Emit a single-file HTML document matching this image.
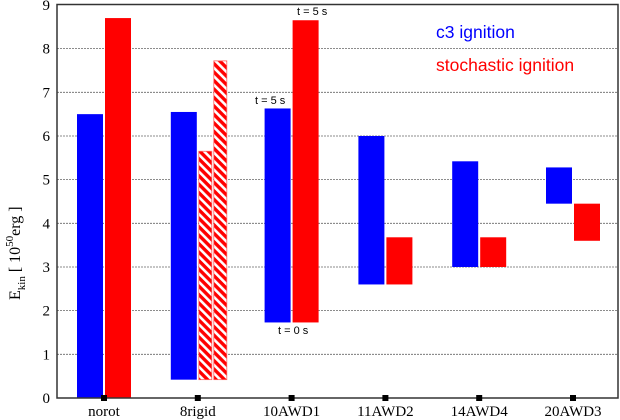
<!DOCTYPE html>
<html><head><meta charset="utf-8"><style>
body{margin:0;background:#fff}
svg{display:block}
</style></head><body>
<svg width="620" height="420" viewBox="0 0 620 420" xmlns="http://www.w3.org/2000/svg">
<defs>
<pattern id="hatch" patternUnits="userSpaceOnUse" width="6" height="6" patternTransform="rotate(-45)">
<rect width="6" height="6" fill="#ff0000"/>
<rect x="0" y="0" width="2.6" height="6" fill="#fff"/>
</pattern>
</defs>
<g id="grid"></g>
<g id="bars"></g>
<rect x="57" y="4.5" width="561" height="393.5" fill="none" stroke="#333" stroke-width="1.5"/>
<g id="yticks" font-family="Liberation Serif, serif" font-size="15" fill="#000"></g>
<g id="xticks" font-family="Liberation Serif, serif" font-size="15" fill="#000"></g>
<text transform="translate(20,300) rotate(-90)" font-family="Liberation Serif, serif" font-size="16">E<tspan font-size="11" dy="5">kin</tspan><tspan dy="-5">  [ 10</tspan><tspan font-size="11" dy="-7">50</tspan><tspan dy="7">erg ]</tspan></text>
<text x="436" y="38" font-family="Liberation Sans, sans-serif" font-size="17.5" fill="#0000ff">c3 ignition</text>
<text x="436" y="71" font-family="Liberation Sans, sans-serif" font-size="17.5" fill="#ff0000">stochastic ignition</text>
<text x="255" y="104" font-family="Liberation Sans, sans-serif" font-size="11">t = 5 s</text>
<text x="297" y="15" font-family="Liberation Sans, sans-serif" font-size="11">t = 5 s</text>
<text x="278" y="334" font-family="Liberation Sans, sans-serif" font-size="11">t = 0 s</text>
</svg>
<script>
const categories = ["norot","8rigid","10AWD1","11AWD2","14AWD4","20AWD3"];
const blueLow  = [0, 0.42, 1.73, 2.6, 3.0, 4.45];
const blueHigh = [6.5, 6.55, 6.63, 6.0, 5.42, 5.28];
const redLow   = [0, null, 1.73, 2.6, 3.0, 3.6];
const redHigh  = [8.7, null, 8.65, 3.68, 3.68, 4.45];
const hatchLow  = [0.42, 0.42];
const hatchHigh = [5.65, 7.72];
const yTicks = [0,1,2,3,4,5,6,7,8,9];

const NS = "http://www.w3.org/2000/svg";
const y = v => 398 - v * 43.67;
const xc = i => 104 + i * 93.8;
function mk(tag, attrs, parent){
  const e = document.createElementNS(NS, tag);
  for (const k in attrs) e.setAttribute(k, attrs[k]);
  parent.appendChild(e); return e;
}
const grid = document.getElementById('grid');
const yt = document.getElementById('yticks');
yTicks.forEach(t => {
  if (t > 0 && t < 9) {
    const l = mk('line', {x1:57, x2:618, y1:y(t), y2:y(t), stroke:'#666', 'stroke-width':0.8, 'stroke-dasharray':'2,1'}, grid);
    
    
  }
  const tx = mk('text', {x:50, y:y(t)+5, 'text-anchor':'end'}, yt);
  tx.textContent = t;
  
  
});
const xt = document.getElementById('xticks');
const bars = document.getElementById('bars');
categories.forEach((c, i) => {
  const m = mk('rect', {x:xc(i)-3, y:395, width:6, height:6, fill:'#000'}, xt);
  
  
  const tx = mk('text', {x:xc(i), y:416, 'text-anchor':'middle'}, xt);
  tx.textContent = c;
  
  
  const b = mk('rect', {x:xc(i)-27, y:y(blueHigh[i]), width:26, height:y(blueLow[i])-y(blueHigh[i]), fill:'#0000ff'}, bars);
  
  
  if (redHigh[i] !== null) {
    const r = mk('rect', {x:xc(i)+1, y:y(redHigh[i]), width:26, height:y(redLow[i])-y(redHigh[i]), fill:'#ff0000'}, bars);
    
    
  } else {
    hatchLow.forEach((lo, k) => {
      const h = mk('rect', {x:xc(i)+1+k*15, y:y(hatchHigh[k]), width:13, height:y(lo)-y(hatchHigh[k]), fill:'url(#hatch)', stroke:'#ff6060', 'stroke-width':0.8}, bars);
      
      
    });
  }
});
</script>
</body></html>
